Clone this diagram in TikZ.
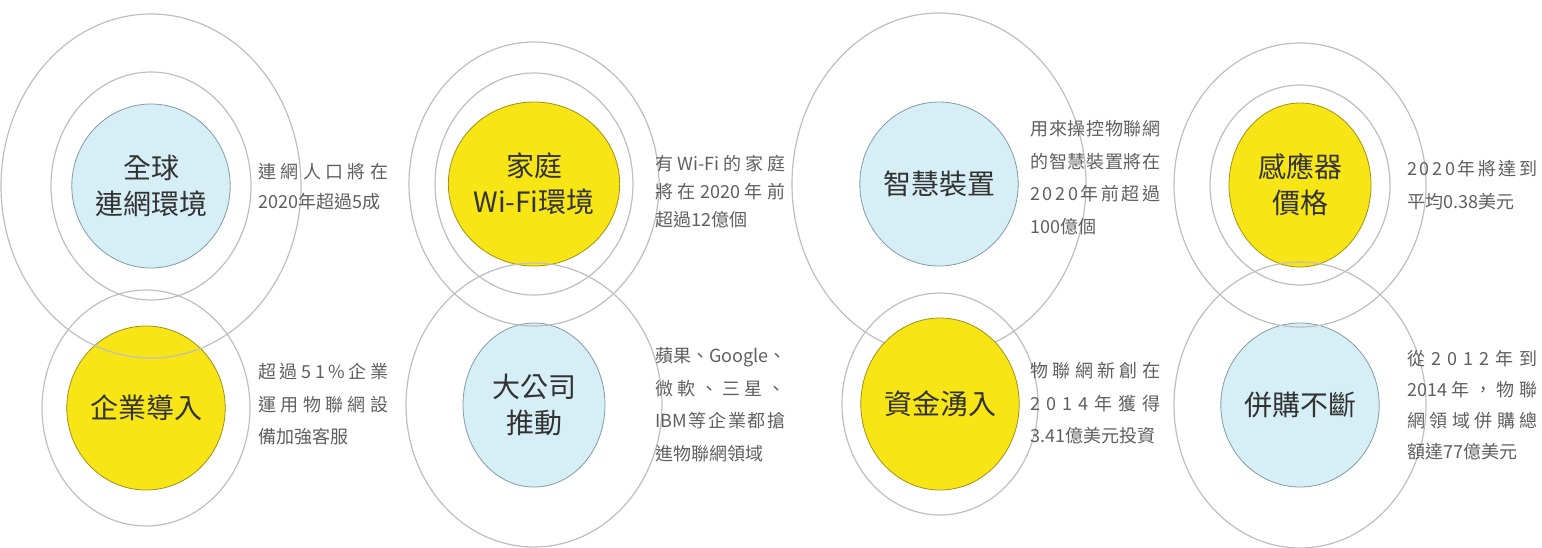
\documentclass[tikz,border=0pt]{standalone}
\usepackage{fontspec}
\setmainfont{Noto Sans CJK TC}
\usetikzlibrary{shapes.geometric}
\definecolor{skyfill}{RGB}{214,238,245}
\definecolor{skyedge}{RGB}{130,155,165}
\definecolor{sunfill}{RGB}{247,229,22}
\definecolor{sunedge}{RGB}{160,145,20}
\definecolor{ringgray}{RGB}{190,190,190}
\definecolor{titlegray}{RGB}{50,50,50}
\definecolor{notegray}{RGB}{95,95,95}
% spread one line of a note over the full note width
\makeatletter
\def\note@stop{\note@stop}
\newcommand{\noteline}[1]{\leavevmode\hbox to 65pt{\note@first#1\note@stop}}
\def\note@first#1{#1\note@rest}
\def\note@rest#1{\def\note@tmp{#1}\ifx\note@tmp\note@stop\else\hfil#1\expandafter\note@rest\fi}
\makeatother

\begin{document}
\begin{tikzpicture}[x=0.5pt,y=-0.5pt,
  ring/.style={draw=ringgray,line width=0.6pt},
  bubble/.style={ellipse,minimum width=71pt,minimum height=82pt,inner sep=0pt,align=center,
    text=titlegray,font=\fontsize{14pt}{18pt}\selectfont,line width=0.4pt},
  skybubble/.style={bubble,fill=skyfill,draw=skyedge},
  sunbubble/.style={bubble,fill=sunfill,draw=sunedge},
  note/.style={anchor=north west,inner sep=0pt,text width=65pt,align=left,
    text=notegray,font=\fontsize{9pt}{16.25pt}\selectfont}]
\useasboundingbox (0,0) rectangle (1542,547);

%Shape: Ellipse (left column)
\node [skybubble] (glob) at (151,186) {全球\\連網環境};
\node [sunbubble] (corp) at (146,408) {企業導入};
%Shape: Ellipse (second column)
\node [sunbubble] (home) at (534,184) {家庭\\Wi-Fi環境};
\node [skybubble] (giant) at (534,405) {大公司\\推動};
%Shape: Ellipse (third column)
\node [skybubble] (smart) at (939,184) {智慧裝置};

%Rings
\draw [ring] (glob) ellipse [x radius=100, y radius=114];
\draw [ring] (glob) ellipse [x radius=150, y radius=172];
\draw [ring] (corp) ellipse [x radius=104, y radius=118];
\draw [ring] (home) ellipse [x radius=99, y radius=111];
\draw [ring] (home) ellipse [x radius=125, y radius=142];
\draw [ring] (giant) ellipse [x radius=128, y radius=142];
\draw [ring] (smart) ellipse [x radius=147, y radius=171];

\node [sunbubble,minimum width=74pt,minimum height=86pt] (fund) at (940,404) {資金湧入};
\draw [ring] (fund) ellipse [x radius=98, y radius=111];

%Shape: Ellipse (right column)
\node [sunbubble] (sensor) at (1300,185) {感應器\\價格};
\node [skybubble] (merge) at (1300,405) {併購不斷};
\draw [ring] (sensor) ellipse [x radius=90, y radius=100];
\draw [ring] (sensor) ellipse [x radius=126, y radius=142];
\draw [ring] (merge) ellipse [x radius=126, y radius=143];

% Text Node
\node [note,font=\fontsize{9pt}{15pt}\selectfont] (globnote) at (258,163)
  {\noteline{連網人口將在}\\2020年超過5成};
% Text Node
\node [note] (corpnote) at (258,363)
  {\noteline{超過51\%企業}\\\noteline{運用物聯網設}\\備加強客服};
% Text Node
\node [note,font=\fontsize{9pt}{14pt}\selectfont] (homenote) at (655,155)
  {\noteline{有{Wi-Fi}的家庭}\\\noteline{將在{2020}年前}\\超過12億個};
% Text Node
\node [note] (giantnote) at (655,347)
  {\noteline{蘋果、{Google}、}\\\noteline{微軟、三星、}\\\noteline{{IBM}等企業都搶}\\進物聯網領域};
% Text Node
\node [note] (smartnote) at (1030,120)
  {\noteline{用來操控物聯網}\\\noteline{的智慧裝置將在}\\\noteline{2020年前超過}\\100億個};
% Text Node
\node [note] (fundnote) at (1030,362)
  {\noteline{物聯網新創在}\\\noteline{2014年獲得}\\3.41億美元投資};
% Text Node
\node [note] (sensornote) at (1407,160)
  {\noteline{2020年將達到}\\平均0.38美元};
% Text Node
\node [note,font=\fontsize{9pt}{15.5pt}\selectfont] (mergenote) at (1407,350)
  {\noteline{從2012年到}\\\noteline{{2014}年，物聯}\\\noteline{網領域併購總}\\額達77億美元};

\end{tikzpicture}
\end{document}
